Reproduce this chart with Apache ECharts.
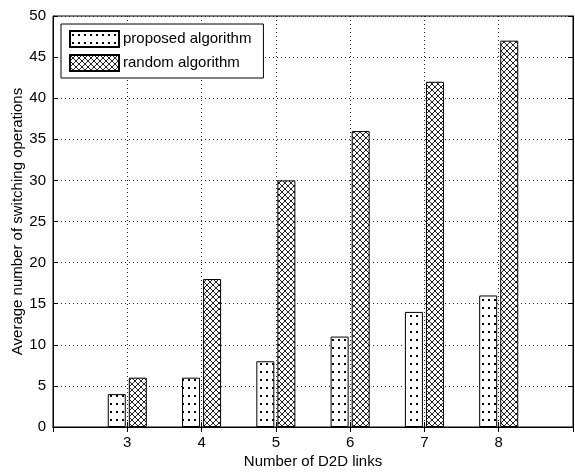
<!DOCTYPE html>
<html>
<head>
<meta charset="utf-8">
<script src="https://cdn.jsdelivr.net/npm/echarts@6/dist/echarts.min.js"></script>
<style>
  html, body { margin: 0; padding: 0; background: #fff; }
  #chart { width: 575px; height: 472px; }
</style>
</head>
<body>
<div id="chart"></div>
<script>
// Number of D2D links
const links = ['3', '4', '5', '6', '7', '8'];
const proposed = [4, 6, 8, 11, 14, 16];
const random = [6, 18, 30, 36, 42, 47];
const yTicks = { min: 0, max: 50, interval: 5 };

// axis runs from 2 to 9, the ends are empty
const axisData = ['2'].concat(links, ['9']);
const pad = arr => [null].concat(arr, [null]);

// fill patterns, drawn once on small canvases
function dotPattern() {
  const c = document.createElement('canvas');
  c.width = 6; c.height = 8;
  const ctx = c.getContext('2d');
  ctx.fillStyle = '#fff';
  ctx.fillRect(0, 0, 6, 8);
  ctx.fillStyle = '#000';
  ctx.fillRect(2, 3, 2, 2);
  return c;
}
function crossPattern() {
  const c = document.createElement('canvas');
  c.width = 6; c.height = 6;
  const ctx = c.getContext('2d');
  ctx.fillStyle = '#fff';
  ctx.fillRect(0, 0, 6, 6);
  ctx.strokeStyle = '#222';
  ctx.lineWidth = 1;
  ctx.beginPath();
  ctx.moveTo(0, 0); ctx.lineTo(6, 6);
  ctx.moveTo(6, 0); ctx.lineTo(0, 6);
  ctx.stroke();
  return c;
}

const font = 'Liberation Sans, Arial, sans-serif';
const gridLine = { show: true, lineStyle: { color: '#222', type: [1, 3], width: 1 } };
const hidePad = (v, i) => (i === 0 || i === axisData.length - 1) ? '' : v;
const tick = { show: true, inside: true, length: 5, lineStyle: { color: '#000' } };

const chart = echarts.init(document.getElementById('chart'));
chart.setOption({
  animation: false,
  backgroundColor: '#fff',
  textStyle: { fontFamily: font, color: '#000' },
  grid: {
    left: 53, right: 2, top: 16, bottom: 45,
    outerBoundsMode: 'none',
    containLabel: false,
    show: true, borderColor: '#000', borderWidth: 1, backgroundColor: 'transparent'
  },
  legend: {
    left: 61, top: 24, orient: 'vertical',
    icon: 'rect',
    itemWidth: 49, itemHeight: 16, itemGap: 6,
    padding: [6, 12, 6, 8],
    backgroundColor: '#fff', borderColor: '#000', borderWidth: 1,
    textStyle: { fontFamily: font, fontSize: 15, color: '#000', padding: [0, 0, 0, -1] },
    data: ['proposed algorithm', 'random algorithm']
  },
  xAxis: [{
    type: 'category',
    data: axisData,
    boundaryGap: false,
    name: 'Number of D2D links',
    nameLocation: 'middle',
    nameGap: 27,
    nameMoveOverlap: false,
    nameTextStyle: { fontSize: 15, color: '#000' },
    axisLine: { show: true, lineStyle: { color: '#000' } },
    axisTick: tick,
    axisLabel: { fontSize: 15, color: '#000', margin: 8, formatter: hidePad },
    splitLine: gridLine
  }, {
    type: 'category',
    data: axisData,
    boundaryGap: false,
    position: 'top',
    axisLine: { show: true, lineStyle: { color: '#000' } },
    axisTick: tick,
    axisLabel: { show: false },
    splitLine: { show: false }
  }],
  yAxis: [{
    type: 'value',
    min: yTicks.min, max: yTicks.max, interval: yTicks.interval,
    name: 'Average number of switching operations',
    nameLocation: 'middle',
    nameGap: 28,
    nameMoveOverlap: false,
    nameTextStyle: { fontSize: 15, color: '#000' },
    axisLine: { show: true, lineStyle: { color: '#000' } },
    axisTick: tick,
    axisLabel: { fontSize: 15, color: '#000', margin: 7 },
    splitLine: gridLine
  }, {
    type: 'value',
    position: 'right',
    min: yTicks.min, max: yTicks.max, interval: yTicks.interval,
    axisLine: { show: true, lineStyle: { color: '#000' } },
    axisTick: tick,
    axisLabel: { show: false },
    splitLine: { show: false }
  }],
  series: [{
    name: 'proposed algorithm',
    type: 'bar',
    data: pad(proposed),
    barWidth: 18,
    barGap: '17%',
    itemStyle: {
      color: { image: dotPattern(), repeat: 'repeat' },
      borderColor: '#000', borderWidth: 1
    }
  }, {
    name: 'random algorithm',
    type: 'bar',
    data: pad(random),
    barWidth: 18,
    itemStyle: {
      color: { image: crossPattern(), repeat: 'repeat' },
      borderColor: '#000', borderWidth: 1
    }
  }]
});
</script>
</body>
</html>
